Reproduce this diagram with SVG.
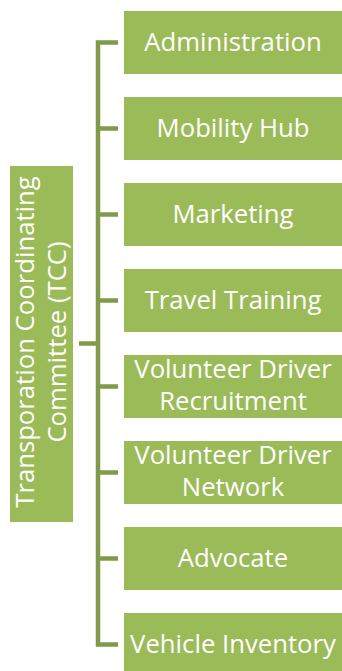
<svg xmlns="http://www.w3.org/2000/svg" width="342" height="671" viewBox="0 0 342 671">
  <style>
    .box { fill: #9BBB59; }
    .lbl { fill: #FFFFFF; font-family: "Open Sans", "Noto Sans", sans-serif; font-size: 25.7px; text-anchor: middle; }
    .wire { fill: none; stroke: #7F9A48; stroke-width: 4.5; }
  </style>
  <rect width="342" height="671" fill="#FFFFFF"/>

  <!-- connectors: trunk, root stub and one stub per child -->
  <g id="connectors">
    <path class="wire" d="M118 42.5 H98 V644.5 H118"/>
    <path class="wire" d="M79 343.5 H98"/>
    <path class="wire" d="M98 128.5 H118"/>
    <path class="wire" d="M98 214.5 H118"/>
    <path class="wire" d="M98 300.5 H118"/>
    <path class="wire" d="M98 386.5 H118"/>
    <path class="wire" d="M98 472.5 H118"/>
    <path class="wire" d="M98 558.5 H118"/>
  </g>

  <!-- root node, text rotated to read bottom to top -->
  <g id="tcc">
    <rect class="box" x="10" y="166" width="63" height="356"/>
    <g transform="translate(41.5 342) rotate(-90)">
      <text class="lbl" x="0" y="-7.5">Transporation Coordinating</text>
      <text class="lbl" x="0" y="24.5">Committee (TCC)</text>
    </g>
  </g>

  <g id="administration">
    <rect class="box" x="124" y="11" width="218" height="63"/>
    <text class="lbl" x="233" y="51">Administration</text>
  </g>
  <g id="mobility-hub">
    <rect class="box" x="124" y="97" width="218" height="63"/>
    <text class="lbl" x="233" y="137">Mobility Hub</text>
  </g>
  <g id="marketing">
    <rect class="box" x="124" y="183" width="218" height="63"/>
    <text class="lbl" x="233" y="223">Marketing</text>
  </g>
  <g id="travel-training">
    <rect class="box" x="124" y="269" width="218" height="63"/>
    <text class="lbl" x="233" y="309">Travel Training</text>
  </g>
  <g id="driver-recruitment">
    <rect class="box" x="124" y="355" width="218" height="63"/>
    <text class="lbl" x="233" y="378">Volunteer Driver</text>
    <text class="lbl" x="233" y="410">Recruitment</text>
  </g>
  <g id="driver-network">
    <rect class="box" x="124" y="441" width="218" height="63"/>
    <text class="lbl" x="233" y="464">Volunteer Driver</text>
    <text class="lbl" x="233" y="496">Network</text>
  </g>
  <g id="advocate">
    <rect class="box" x="124" y="527" width="218" height="63"/>
    <text class="lbl" x="233" y="567">Advocate</text>
  </g>
  <g id="vehicle-inventory">
    <rect class="box" x="124" y="613" width="218" height="63"/>
    <text class="lbl" x="233" y="653">Vehicle Inventory</text>
  </g>
</svg>
